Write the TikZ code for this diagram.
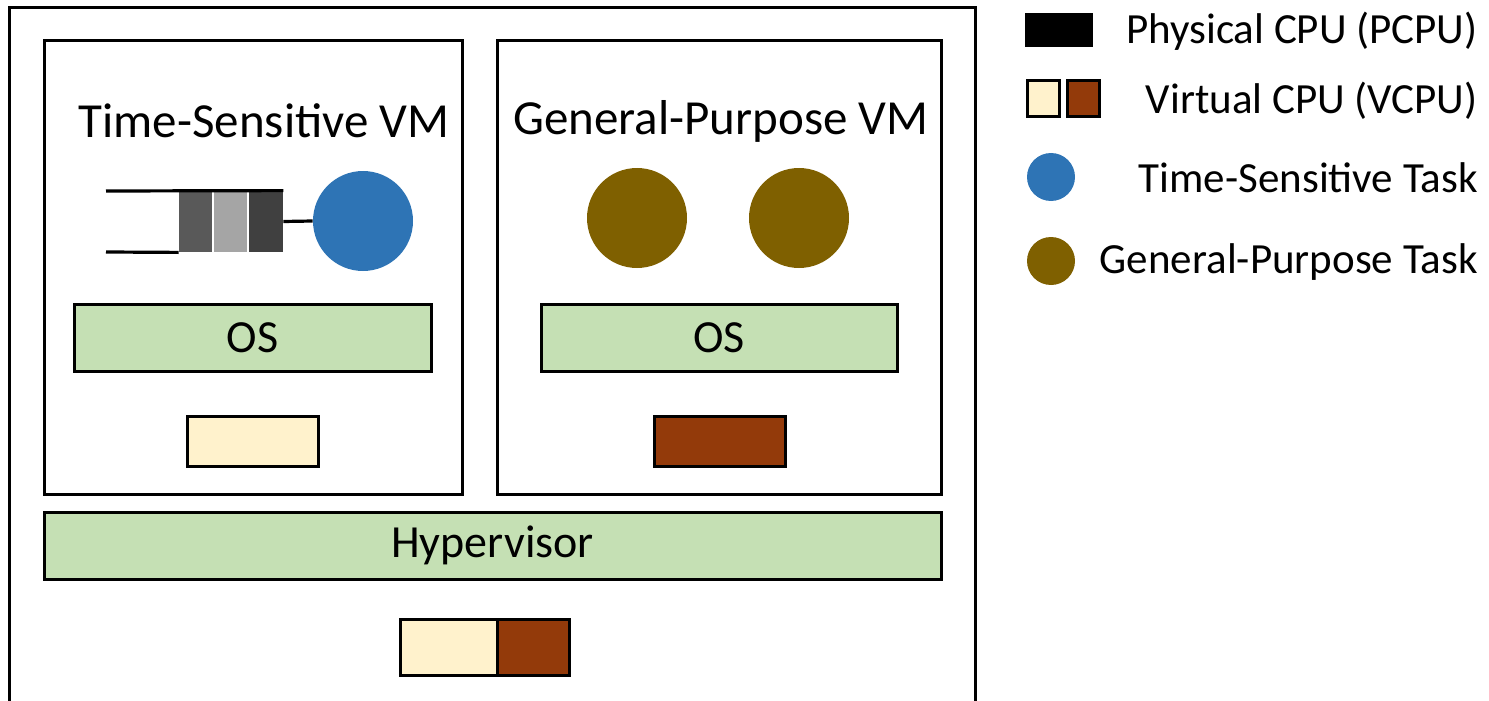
\documentclass[tikz,border=0pt]{standalone}
\usepackage{fontspec}
\setmainfont{Carlito}
\definecolor{osgreen}{HTML}{C5E0B4}
\definecolor{vlight}{HTML}{FFF2CC}
\definecolor{vbrown}{HTML}{933A0A}
\definecolor{tsblue}{HTML}{2E74B5}
\definecolor{gpbrown}{HTML}{7F6000}
\definecolor{qa}{HTML}{595959}
\definecolor{qb}{HTML}{A5A5A5}
\definecolor{qc}{HTML}{404040}
\tikzset{
  frame/.style={draw=black, line width=1.5pt, fill=none},
  greenbar/.style={draw=black, line width=1.5pt, fill=osgreen, font=\fontsize{23}{26}\selectfont},
  cpubox/.style={draw=black, line width=1.5pt},
  taskdot/.style={circle, inner sep=0pt, minimum size=50pt, draw=none},
  legdot/.style={circle, inner sep=0pt, minimum size=24pt, draw=none},
  title/.style={font=\fontsize{24.5}{28}\selectfont, inner sep=0pt},
  legtext/.style={font=\fontsize{21.5}{25}\selectfont, anchor=east, inner sep=0pt},
  qline/.style={line width=1.6pt},
}
\begin{document}
\begin{tikzpicture}[x=0.5pt,y=-0.5pt]
\useasboundingbox (0,0) rectangle (1489,701);
% outer frame (open at bottom)
\draw[frame] (9,712) -- (9,8) -- (975,8) -- (975,712);
% VM boxes
\node[frame, rectangle, minimum width=209pt, minimum height=226.5pt, inner sep=0pt] (tsvm) at (253,267.5) {};
\node[frame, rectangle, minimum width=222pt, minimum height=226.5pt, inner sep=0pt] (gpvm) at (719,267.5) {};
\node[title] (tstitle) at (264,121) {Time-Sensitive VM};
\node[title] (gptitle) at (721,121) {General-Purpose VM};
% queue
\coordinate (qtl) at (106,191);
\coordinate (qbl) at (106,252);
\node[rectangle, fill=qa, minimum width=16.5pt, minimum height=30.5pt, inner sep=0pt] (q1) at (195.5,221.5) {};
\node[rectangle, fill=qb, minimum width=16.5pt, minimum height=30.5pt, inner sep=0pt] (q2) at (230.5,221.5) {};
\node[rectangle, fill=qc, minimum width=17pt, minimum height=30.5pt, inner sep=0pt] (q3) at (266,221.5) {};
\draw[qline] (qtl) -- (q3.north east);
\draw[qline] (qbl) -- (q1.south west);
\node[taskdot, fill=tsblue] (tstask) at (363,221) {};
\draw[qline] (q3.east) -- (tstask.west);
% GP tasks
\node[taskdot, fill=gpbrown] (gp1) at (637,218) {};
\node[taskdot, fill=gpbrown] (gp2) at (799,218) {};
% OS bars
\node[greenbar, rectangle, minimum width=178.5pt, minimum height=33.5pt, inner sep=0pt] (os1) at (252.5,337.5) {OS};
\node[greenbar, rectangle, minimum width=178pt, minimum height=33.5pt, inner sep=0pt] (os2) at (719,337.5) {OS};
% VCPUs
\node[cpubox, fill=vlight, minimum width=65.5pt, minimum height=25pt, inner sep=0pt] (v1) at (252.5,441) {};
\node[cpubox, fill=vbrown, minimum width=65.5pt, minimum height=25pt, inner sep=0pt] (v2) at (719.5,441) {};
% hypervisor
\node[greenbar, rectangle, minimum width=448.5pt, minimum height=33.5pt, inner sep=0pt] (hyp) at (492.5,545.5) {\raisebox{-1.5pt}{Hypervisor}};
% PCPU
\node[cpubox, fill=vlight, minimum width=48.5pt, minimum height=28pt, inner sep=0pt] (p1) at (448.5,647) {};
\node[cpubox, fill=vbrown, minimum width=36pt, minimum height=28pt, inner sep=0pt] (p2) at (533,647) {};
% legend
\node[rectangle, fill=black, minimum width=34pt, minimum height=17pt, inner sep=0pt] (lp) at (1059,30) {};
\node[cpubox, fill=vlight, minimum width=16pt, minimum height=18pt, inner sep=0pt] (lv1) at (1043,99) {};
\node[cpubox, fill=vbrown, minimum width=16pt, minimum height=18pt, inner sep=0pt] (lv2) at (1083,99) {};
\node[legdot, fill=tsblue] (lts) at (1051,177) {};
\node[legdot, fill=gpbrown] (lgp) at (1051,261) {};
\node[legtext] (tp) at (1478,31) {Physical CPU (PCPU)};
\node[legtext] (tv) at (1478,101) {Virtual CPU (VCPU)};
\node[legtext] (tt) at (1478,178) {Time-Sensitive Task};
\node[legtext] (tg) at (1478,262) {General-Purpose Task};
\end{tikzpicture}
\end{document}
